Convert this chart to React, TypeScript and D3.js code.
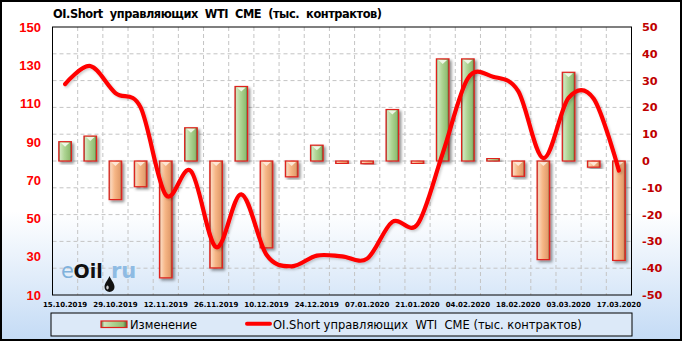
import React from 'react';
import * as d3 from 'd3';

const dates = ['15.10.2019','22.10.2019','29.10.2019','05.11.2019','12.11.2019','19.11.2019','26.11.2019','03.12.2019','10.12.2019','17.12.2019','24.12.2019','31.12.2019','07.01.2020','14.01.2020','21.01.2020','28.01.2020','04.02.2020','11.02.2020','18.02.2020','25.02.2020','03.03.2020','10.03.2020','17.03.2020'];
const changes = [7.2, 9.3, -14.4, -9.6, -43.6, 12.4, -39.9, 27.8, -32.4, -5.9, 5.9, -0.6, -1.0, 19.2, -0.8, 38.1, 38.1, 0.8, -5.7, -36.8, 33.1, -2.3, -37.1];
const shorts = [120.2, 129.6, 115.5, 108, 62.3, 74.7, 35, 62.6, 31, 25, 30.6, 30.2, 29, 48.2, 47, 84, 123.2, 124, 116.5, 81.5, 113, 112.5, 75];
const leftTicks = [10, 30, 50, 70, 90, 110, 130, 150];
const rightTicks = [-50, -40, -30, -20, -10, 0, 10, 20, 30, 40, 50];
const title = 'OI.Short  управляющих  WTI  CME  (тыс.  контрактов)';
const legendBar = 'Изменение';
const legendLine = 'OI.Short управляющих  WTI  CME (тыс. контрактов)';

const W = 682, H = 341;
const L = 52.5, R = 631.5, T = 27, B = 295;

export default function App() {
  const x = d3.scaleBand<string>().domain(dates).range([L, R]).paddingInner(0.5).paddingOuter(0.25);
  const yL = d3.scaleLinear().domain([10, 150]).range([B, T]);
  const yR = d3.scaleLinear().domain([-50, 50]).range([B, T]);
  const step = x.step();
  const bw = x.bandwidth();
  const cx = (d: string) => (x(d) as number) + bw / 2;
  const line = d3.line<number>()
    .x((_, i) => cx(dates[i]))
    .y((v) => yL(v))
    .curve(d3.curveCardinal.tension(0));
  const bandEdges = dates.map((_, i) => L + i * step).slice(1);

  return (
    <svg width={W} height={H} style={{ position: 'absolute', left: 0, top: 0 }}>
      <defs>
        <linearGradient id="bg" x1="0" y1="0" x2="0" y2="1">
          <stop offset="0" stopColor="#ffffff" />
          <stop offset="0.62" stopColor="#ffffff" />
          <stop offset="1" stopColor="#c4dbf5" />
        </linearGradient>
        <linearGradient id="gG" x1="0" y1="0" x2="1" y2="0">
          <stop offset="0" stopColor="#55653a" />
          <stop offset="0.12" stopColor="#cfe6bd" />
          <stop offset="0.45" stopColor="#aed493" />
          <stop offset="0.85" stopColor="#90bd72" />
          <stop offset="1" stopColor="#4a5e32" />
        </linearGradient>
        <linearGradient id="gO" x1="0" y1="0" x2="1" y2="0">
          <stop offset="0" stopColor="#8c5a3a" />
          <stop offset="0.12" stopColor="#fbd6bb" />
          <stop offset="0.45" stopColor="#f6b686" />
          <stop offset="0.85" stopColor="#e39d6c" />
          <stop offset="1" stopColor="#7e4a2c" />
        </linearGradient>
        <filter id="sh" x="-50%" y="-20%" width="200%" height="140%">
          <feDropShadow dx="2" dy="2" stdDeviation="1.6" floodColor="#000" floodOpacity="0.45" />
        </filter>
        <filter id="lsh" x="-5%" y="-10%" width="110%" height="120%">
          <feDropShadow dx="1.5" dy="1.5" stdDeviation="1.2" floodColor="#000" floodOpacity="0.2" />
        </filter>
      </defs>
      <rect x={1} y={1} width={W - 2} height={H - 2} fill="url(#bg)" stroke="#000" strokeWidth={2} />

      {/* title */}
      <text x={53} y={17.5} fontFamily="DejaVu Sans, Verdana, sans-serif" fontWeight="bold" fontSize={11.4}
        textLength={329} lengthAdjust="spacing" style={{ whiteSpace: 'pre' }} fill="#000">{title}</text>

      {/* grid */}
      {rightTicks.slice(1, -1).map((t) => (
        <line key={'h' + t} x1={L} x2={R} y1={yR(t)} y2={yR(t)} stroke="#c4c4c4" strokeDasharray="4,3" />
      ))}
      {bandEdges.map((e, i) => (
        <line key={'v' + i} x1={e} x2={e} y1={T} y2={B} stroke="#c4c4c4" strokeDasharray="4,3" />
      ))}

      {/* watermark */}
      <g>
        <text x={61} y={278} fill="#80b2dc" fontFamily="DejaVu Sans, sans-serif" fontSize={21}>e</text>
        <text x={73.5} y={278} fill="#111" fontFamily="DejaVu Sans, sans-serif" fontWeight="bold" fontSize={19}>Oil</text>
        <text x={111} y={278} fill="#8ebbe3" fontFamily="DejaVu Sans, sans-serif" fontWeight="bold" fontSize={21}>ru</text>
        <path d="M109.5,276 C111,280 114.5,283 114.5,287 A5,5 0 1 1 104.5,287 C104.5,283 108,280 109.5,276 Z" fill="#111" />
        <ellipse cx={107.5} cy={287.5} rx={1.2} ry={2} fill="#fff" opacity={0.8} />
      </g>

      {/* bars */}
      {changes.map((v, i) => {
        const x0 = x(dates[i]) as number;
        const y0 = Math.min(yR(0), yR(v));
        const h = Math.max(Math.abs(yR(v) - yR(0)), 2.5);
        const pos = v >= 0;
        const yy = pos ? Math.min(y0, yR(0) - h) : yR(0);
        const tri = Math.min(4, h - 1);
        return (
          <g key={'b' + i}>
            <rect x={x0} y={yy} width={bw} height={h} fill={pos ? 'url(#gG)' : 'url(#gO)'} stroke="#e0201c" strokeWidth={1.2} filter="url(#sh)" />
            {h > 5 && (
              <path d={`M${x0 + 2},${yy + 1} L${x0 + bw - 2},${yy + 1} L${x0 + bw / 2},${yy + 1 + tri} Z`} fill={pos ? '#eef7e6' : '#fde7d6'} />
            )}
          </g>
        );
      })}

      {/* line */}
      <path d={line(shorts) || ''} fill="none" stroke="#ff0000" strokeWidth={4.2} strokeLinejoin="round" strokeLinecap="round" filter="url(#lsh)" />

      {/* plot border */}
      <rect x={L} y={T} width={R - L} height={B - T} fill="none" stroke="#000" strokeWidth={1} />

      {/* left axis */}
      {leftTicks.map((t) => (
        <text key={'l' + t} x={41} y={yL(t)} dy="0.36em" textAnchor="end" fill="#ff0000"
          fontFamily="Liberation Sans, Arial, sans-serif" fontWeight="bold" fontSize={13}>{t}</text>
      ))}
      {/* right axis */}
      {rightTicks.map((t) => (
        <text key={'r' + t} x={642} y={yR(t)} dy="0.36em" textAnchor="start" fill="#c00000"
          fontFamily="DejaVu Sans, Verdana, sans-serif" fontWeight="bold" fontSize={11.3}>{t}</text>
      ))}
      {/* x labels */}
      {dates.map((d, i) => i % 2 === 0 ? (
        <text key={'x' + i} x={cx(d)} y={307} textAnchor="middle" fill="#000"
          fontFamily="DejaVu Sans, Verdana, sans-serif" fontWeight="bold" fontSize={7}>{d}</text>
      ) : null)}

      {/* legend */}
      <rect x={51} y={313} width={581} height={23} fill="#dce9f8" stroke="#000" strokeWidth={1} />
      <rect x={101} y={321} width={26} height={6.5} fill="url(#gG)" stroke="#e0201c" strokeWidth={1.2} />
      <text x={130} y={328.5} fontFamily="DejaVu Sans, Tahoma, sans-serif" fontSize={11.5} fill="#000">{legendBar}</text>
      <line x1={247} x2={270} y1={323.7} y2={323.7} stroke="#ff0000" strokeWidth={4} strokeLinecap="round" />
      <text x={273} y={328.5} fontFamily="DejaVu Sans, Tahoma, sans-serif" fontSize={11.5} fill="#000"
        style={{ whiteSpace: 'pre' }}>{legendLine}</text>
    </svg>
  );
}
